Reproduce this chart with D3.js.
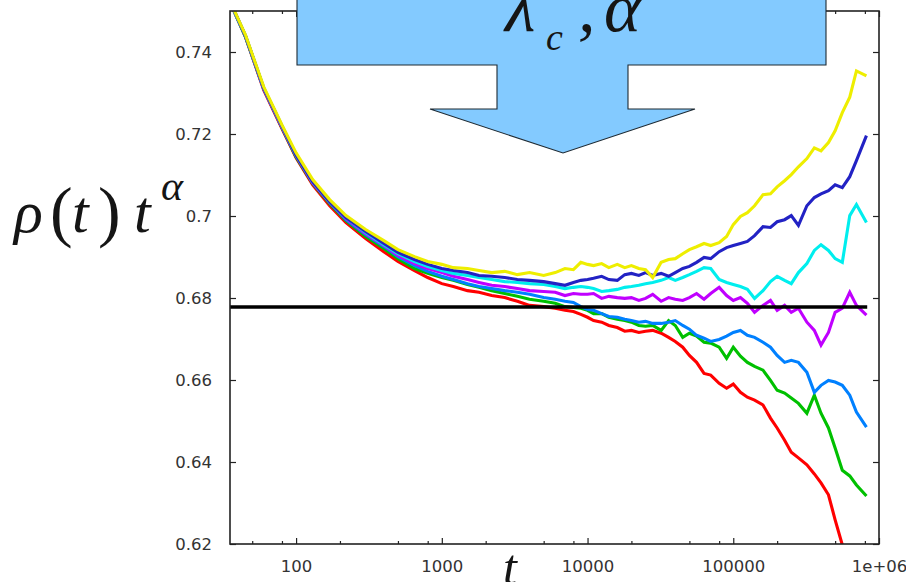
<!DOCTYPE html>
<html>
<head>
<meta charset="utf-8">
<script src="https://cdn.jsdelivr.net/npm/d3@7"></script>
<style>
  html, body { margin:0; padding:0; background:#fff; }
  svg { display:block; }
  .math { font-family:"Liberation Serif","Times New Roman",serif; font-style:italic; fill:#151515; }
  .paren { font-family:"Liberation Serif","Times New Roman",serif; fill:#151515; }
</style>
</head>
<body>
<div id="chart"></div>
<script>
// time grid shared by every run
const times = [35, 45, 60, 80, 100, 130, 170, 220, 300, 400, 500, 650, 800,
  1000, 1200, 1500, 1800, 2200, 2700, 3300, 4000, 5000, 6000, 7000, 8000, 9000,
  10000, 11000, 12500, 14000, 16000, 18000, 20000, 22500, 25000, 28000, 32000,
  36000, 40000, 45000, 50000, 56000, 63000, 70000, 80000, 90000, 100000, 112000,
  125000, 140000, 160000, 180000, 200000, 225000, 250000, 280000, 320000, 360000,
  400000, 450000, 500000, 560000, 630000, 700000, 820000];

// rho(t) t^alpha, one array per lambda
const red = [0.7524, 0.7436, 0.7307, 0.7213, 0.7142, 0.7076, 0.7025, 0.6984, 0.6945, 0.6913, 0.6889, 0.6867, 0.6850,
  0.6835, 0.6828, 0.6818, 0.6814, 0.6806, 0.6801, 0.6792, 0.6782, 0.6779, 0.6775,
  0.6770, 0.6767, 0.6760, 0.6753, 0.6745, 0.6741, 0.6733, 0.6728, 0.6719, 0.6721,
  0.6716, 0.6719, 0.6721, 0.6714, 0.6704, 0.6694, 0.6680, 0.6660, 0.6643, 0.6616,
  0.6612, 0.6592, 0.6580, 0.6590, 0.6570, 0.6558, 0.6551, 0.6539, 0.6507, 0.6483,
  0.6453, 0.6424, 0.6410, 0.6393, 0.6371, 0.6349, 0.6320, 0.6259, 0.6198, 0.6162,
  0.6137, 0.6125];
const green = [0.7524, 0.7436, 0.7310, 0.7215, 0.7144, 0.7079, 0.7030, 0.6989, 0.6950, 0.6921, 0.6896, 0.6872, 0.6860,
  0.6850, 0.6843, 0.6833, 0.6826, 0.6818, 0.6811, 0.6804, 0.6797, 0.6792, 0.6787,
  0.6779, 0.6777, 0.6775, 0.6770, 0.6762, 0.6762, 0.6753, 0.6748, 0.6745, 0.6741,
  0.6733, 0.6731, 0.6733, 0.6721, 0.6745, 0.6733, 0.6704, 0.6714, 0.6707, 0.6692,
  0.6690, 0.6680, 0.6653, 0.6680, 0.6658, 0.6643, 0.6633, 0.6624, 0.6599, 0.6575,
  0.6568, 0.6556, 0.6543, 0.6519, 0.6563, 0.6519, 0.6483, 0.6434, 0.6380, 0.6366,
  0.6344, 0.6317];
const blue = [0.7524, 0.7439, 0.7310, 0.7217, 0.7147, 0.7081, 0.7033, 0.6991, 0.6955, 0.6926, 0.6901, 0.6879, 0.6865,
  0.6853, 0.6845, 0.6835, 0.6828, 0.6823, 0.6818, 0.6814, 0.6809, 0.6801, 0.6797,
  0.6792, 0.6789, 0.6779, 0.6772, 0.6770, 0.6762, 0.6755, 0.6753, 0.6748, 0.6745,
  0.6741, 0.6743, 0.6738, 0.6738, 0.6741, 0.6745, 0.6733, 0.6724, 0.6709, 0.6702,
  0.6694, 0.6699, 0.6707, 0.6716, 0.6721, 0.6709, 0.6704, 0.6692, 0.6680, 0.6660,
  0.6643, 0.6648, 0.6643, 0.6619, 0.6570, 0.6587, 0.6599, 0.6595, 0.6587, 0.6563,
  0.6522, 0.6485];
const purple = [0.7524, 0.7439, 0.7310, 0.7217, 0.7147, 0.7081, 0.7033, 0.6994, 0.6957, 0.6928, 0.6904, 0.6884, 0.6872,
  0.6862, 0.6853, 0.6845, 0.6838, 0.6831, 0.6828, 0.6823, 0.6818, 0.6816, 0.6814,
  0.6806, 0.6811, 0.6809, 0.6809, 0.6811, 0.6799, 0.6804, 0.6801, 0.6799, 0.6801,
  0.6794, 0.6799, 0.6809, 0.6792, 0.6801, 0.6797, 0.6794, 0.6801, 0.6811, 0.6797,
  0.6811, 0.6826, 0.6806, 0.6794, 0.6801, 0.6787, 0.6765, 0.6782, 0.6794, 0.6770,
  0.6782, 0.6765, 0.6775, 0.6741, 0.6721, 0.6685, 0.6716, 0.6765, 0.6775, 0.6814,
  0.6782, 0.6758];
const cyan = [0.7524, 0.7439, 0.7312, 0.7220, 0.7149, 0.7084, 0.7035, 0.6996, 0.6960, 0.6930, 0.6908, 0.6889, 0.6877,
  0.6867, 0.6860, 0.6855, 0.6850, 0.6845, 0.6840, 0.6838, 0.6835, 0.6833, 0.6828,
  0.6823, 0.6826, 0.6828, 0.6826, 0.6823, 0.6816, 0.6818, 0.6821, 0.6826, 0.6828,
  0.6831, 0.6835, 0.6838, 0.6843, 0.6850, 0.6843, 0.6850, 0.6857, 0.6865, 0.6874,
  0.6872, 0.6845, 0.6838, 0.6833, 0.6828, 0.6821, 0.6799, 0.6818, 0.6840, 0.6853,
  0.6843, 0.6835, 0.6862, 0.6884, 0.6916, 0.6930, 0.6916, 0.6896, 0.6887, 0.7001,
  0.7028, 0.6984];
const navy = [0.7526, 0.7439, 0.7312, 0.7220, 0.7149, 0.7084, 0.7035, 0.6996, 0.6962, 0.6933, 0.6911, 0.6894, 0.6882,
  0.6872, 0.6867, 0.6862, 0.6855, 0.6853, 0.6850, 0.6845, 0.6843, 0.6840, 0.6835,
  0.6831, 0.6838, 0.6843, 0.6845, 0.6848, 0.6853, 0.6845, 0.6843, 0.6857, 0.6860,
  0.6855, 0.6862, 0.6855, 0.6860, 0.6853, 0.6862, 0.6872, 0.6877, 0.6887, 0.6899,
  0.6896, 0.6913, 0.6923, 0.6928, 0.6933, 0.6938, 0.6952, 0.6974, 0.6972, 0.6986,
  0.6991, 0.7001, 0.6977, 0.7025, 0.7045, 0.7054, 0.7062, 0.7076, 0.7069, 0.7096,
  0.7135, 0.7196];
const yellow = [0.7526, 0.7441, 0.7315, 0.7222, 0.7154, 0.7089, 0.7040, 0.7001, 0.6967, 0.6940, 0.6918, 0.6901, 0.6889,
  0.6882, 0.6874, 0.6872, 0.6867, 0.6862, 0.6865, 0.6857, 0.6862, 0.6855, 0.6862,
  0.6872, 0.6869, 0.6887, 0.6882, 0.6879, 0.6884, 0.6874, 0.6882, 0.6874, 0.6879,
  0.6872, 0.6869, 0.6850, 0.6887, 0.6894, 0.6896, 0.6908, 0.6918, 0.6925, 0.6933,
  0.6928, 0.6935, 0.6950, 0.6979, 0.6999, 0.7008, 0.7025, 0.7052, 0.7054, 0.7071,
  0.7086, 0.7101, 0.7120, 0.7140, 0.7166, 0.7159, 0.7179, 0.7208, 0.7252, 0.7290,
  0.7354, 0.7342];

// critical value, drawn as the black line
const refValue = 0.6778;
const refSpan = [35, 830000];

// axis ticks
const xMajor = [100, 1000, 10000, 100000, 1000000];
const xLabels = ['100', '1000', '10000', '100000', '1e+06'];
const xMinor = [50, 80, 200, 500, 800, 2000, 5000, 8000, 20000, 50000, 80000, 200000, 500000, 800000];
const yMajor = [0.62, 0.64, 0.66, 0.68, 0.70, 0.72, 0.74];

const W = 906, H = 582;
const M = { left:230, right:879, top:11, bottom:544 };

const svg = d3.select('#chart').append('svg')
  .attr('width', W).attr('height', H);

svg.append('rect').attr('width', W).attr('height', H).attr('fill', '#fff');

const x = d3.scaleLog().domain([35.2, 1000000]).range([M.left, M.right]);
const y = d3.scaleLinear().domain([0.62, 0.75]).range([M.bottom, M.top]);

svg.append('clipPath').attr('id', 'plot-clip')
  .append('rect')
  .attr('x', M.left).attr('y', M.top)
  .attr('width', M.right - M.left).attr('height', M.bottom - M.top);

// curves, in gnuplot order (yellow ends up on top)
const series = [
  { values: red,    color:'#ff0000' },
  { values: green,  color:'#00c000' },
  { values: blue,   color:'#0080ff' },
  { values: purple, color:'#c000ff' },
  { values: cyan,   color:'#00eeee' },
  { values: navy,   color:'#2222c4' },
  { values: yellow, color:'#eeee00' }
];

const line = d3.line()
  .x((d, i) => x(times[i]))
  .y(d => y(d));

const plot = svg.append('g').attr('clip-path', 'url(#plot-clip)');

plot.selectAll('path.run').data(series).enter().append('path')
  .attr('class', 'run')
  .attr('d', d => line(d.values))
  .attr('fill', 'none')
  .attr('stroke', d => d.color)
  .attr('stroke-width', 3.1)
  .attr('stroke-linejoin', 'miter');

// black reference line
plot.append('line')
  .attr('x1', x(refSpan[0])).attr('x2', x(refSpan[1]))
  .attr('y1', y(refValue)).attr('y2', y(refValue))
  .attr('stroke', '#000')
  .attr('stroke-width', 3.6);

// axes: ticks point inwards on all four sides
function styleAxis(g){
  g.select('.domain').remove();
  g.selectAll('line').attr('stroke', '#222').attr('stroke-width', 1.2);
  g.selectAll('text')
    .attr('fill', '#333')
    .style('font-family', '"DejaVu Sans", sans-serif')
    .style('font-size', '16.5px');
}

svg.append('g').attr('transform', `translate(0,${M.bottom})`)
  .call(d3.axisBottom(x).tickValues(xMajor).tickSize(-6).tickSizeOuter(0)
    .tickPadding(16).tickFormat((d, i) => xLabels[i]))
  .call(styleAxis);
svg.append('g').attr('transform', `translate(0,${M.bottom})`)
  .call(d3.axisBottom(x).tickValues(xMinor).tickSize(-3).tickSizeOuter(0).tickFormat(''))
  .call(styleAxis);
svg.append('g').attr('transform', `translate(0,${M.top})`)
  .call(d3.axisTop(x).tickValues(xMajor).tickSize(-6).tickSizeOuter(0).tickFormat(''))
  .call(styleAxis);
svg.append('g').attr('transform', `translate(0,${M.top})`)
  .call(d3.axisTop(x).tickValues(xMinor).tickSize(-3).tickSizeOuter(0).tickFormat(''))
  .call(styleAxis);
svg.append('g').attr('transform', `translate(${M.left},0)`)
  .call(d3.axisLeft(y).tickValues(yMajor).tickSize(-6).tickSizeOuter(0)
    .tickPadding(18).tickFormat(d => String(+d.toFixed(2))))
  .call(styleAxis);
svg.append('g').attr('transform', `translate(${M.right},0)`)
  .call(d3.axisRight(y).tickValues(yMajor).tickSize(-6).tickSizeOuter(0).tickFormat(''))
  .call(styleAxis);

svg.append('rect')
  .attr('x', M.left).attr('y', M.top)
  .attr('width', M.right - M.left).attr('height', M.bottom - M.top)
  .attr('fill', 'none').attr('stroke', '#222').attr('stroke-width', 1.6);

// the big blue arrow annotation
const arrow = [[297,-5],[826,-5],[826,65],[628,65],[628,109],[695,109],
  [563,153],[430,109],[497,109],[497,65],[297,65]];
svg.append('path')
  .attr('d', d3.line()(arrow) + 'Z')
  .attr('fill', '#83caff')
  .attr('stroke', '#1e2a33')
  .attr('stroke-width', 1.1);

svg.append('text').attr('class', 'math').attr('x', 505).attr('y', 31)
  .style('font-size', '70px').text('λ');
svg.append('text').attr('class', 'math').attr('x', 546).attr('y', 50)
  .style('font-size', '38px').text('c');
svg.append('text').attr('class', 'math').attr('x', 578).attr('y', 31)
  .style('font-size', '70px').text(',');
svg.append('text').attr('class', 'math').attr('x', 604).attr('y', 31)
  .style('font-size', '70px').text('α');

// y label: rho(t) t^alpha
svg.append('text').attr('class', 'math').attr('x', 14).attr('y', 232)
  .style('font-size', '60px').text('ρ');
svg.append('text').attr('class', 'paren').attr('x', 50).attr('y', 234)
  .style('font-size', '68px').text('(');
svg.append('text').attr('class', 'math').attr('x', 72).attr('y', 232)
  .style('font-size', '60px').text('t');
svg.append('text').attr('class', 'paren').attr('x', 98).attr('y', 234)
  .style('font-size', '68px').text(')');
svg.append('text').attr('class', 'math').attr('x', 134).attr('y', 232)
  .style('font-size', '60px').text('t');
svg.append('text').attr('class', 'math').attr('x', 161).attr('y', 200)
  .style('font-size', '42px').text('α');

// x label
svg.append('text').attr('class', 'math').attr('x', 503).attr('y', 584)
  .style('font-size', '50px').text('t');
</script>
</body>
</html>
